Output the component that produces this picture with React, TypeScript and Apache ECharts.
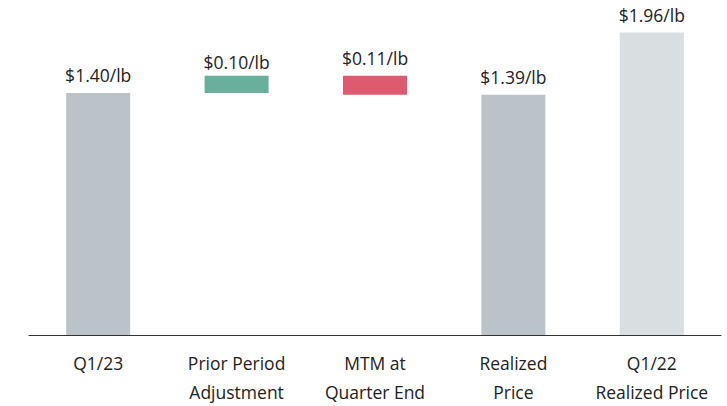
import React, { useEffect, useRef } from "react";
import * as echarts from "echarts";

const categories = ["Q1/23", "Prior Period\nAdjustment", "MTM at\nQuarter End", "Realized\nPrice", "Q1/22\nRealized Price"];
// invisible base of each floating bar (waterfall)
const baseValues = [0, 1.40, 1.39, 0, 0];
// visible height of each bar as drawn in the picture
const barValues = [1.40, 0.10, 0.11, 1.39, 1.75];
const valueLabels = ["$1.40/lb", "$0.10/lb", "$0.11/lb", "$1.39/lb", "$1.96/lb"];
const barColors = ["#bbc3c9", "#6aaf9b", "#dd5a6f", "#bbc3c9", "#d9dee0"];

export default function App() {
  const ref = useRef<HTMLDivElement>(null);
  useEffect(() => {
    const chart = echarts.init(ref.current!, undefined, { renderer: "svg" });
    chart.setOption({
      animation: false,
      textStyle: { fontFamily: "'Open Sans', sans-serif" },
      grid: { left: 29, right: 6, top: 6.6, bottom: 71, containLabel: false },
      xAxis: {
        type: "category",
        data: categories,
        axisLine: { show: true, lineStyle: { color: "#333", width: 1 } },
        axisTick: { show: false },
        axisLabel: {
          color: "#222",
          fontSize: 17.5,
          lineHeight: 29,
          margin: 13,
          interval: 0,
          fontFamily: "'Open Sans', sans-serif",
        },
      },
      yAxis: {
        type: "value",
        min: 0,
        max: 1.9,
        show: false,
        splitLine: { show: false },
      },
      series: [
        {
          type: "bar",
          stack: "w",
          data: baseValues,
          itemStyle: { color: "transparent" },
          barWidth: 64,
          silent: true,
        },
        {
          type: "bar",
          stack: "w",
          barWidth: 64,
          data: barValues.map((v, i) => ({
            value: v,
            itemStyle: { color: barColors[i] },
            label: {
              show: true,
              position: "top",
              distance: i === 1 ? 5 : 9,
              formatter: valueLabels[i],
              color: "#222",
              fontSize: 17.5,
              fontFamily: "'Open Sans', sans-serif",
            },
          })),
        },
      ],
    });
    return () => chart.dispose();
  }, []);
  return <div ref={ref} style={{ width: 727, height: 406, position: "absolute", left: 0, top: 0 }} />;
}
